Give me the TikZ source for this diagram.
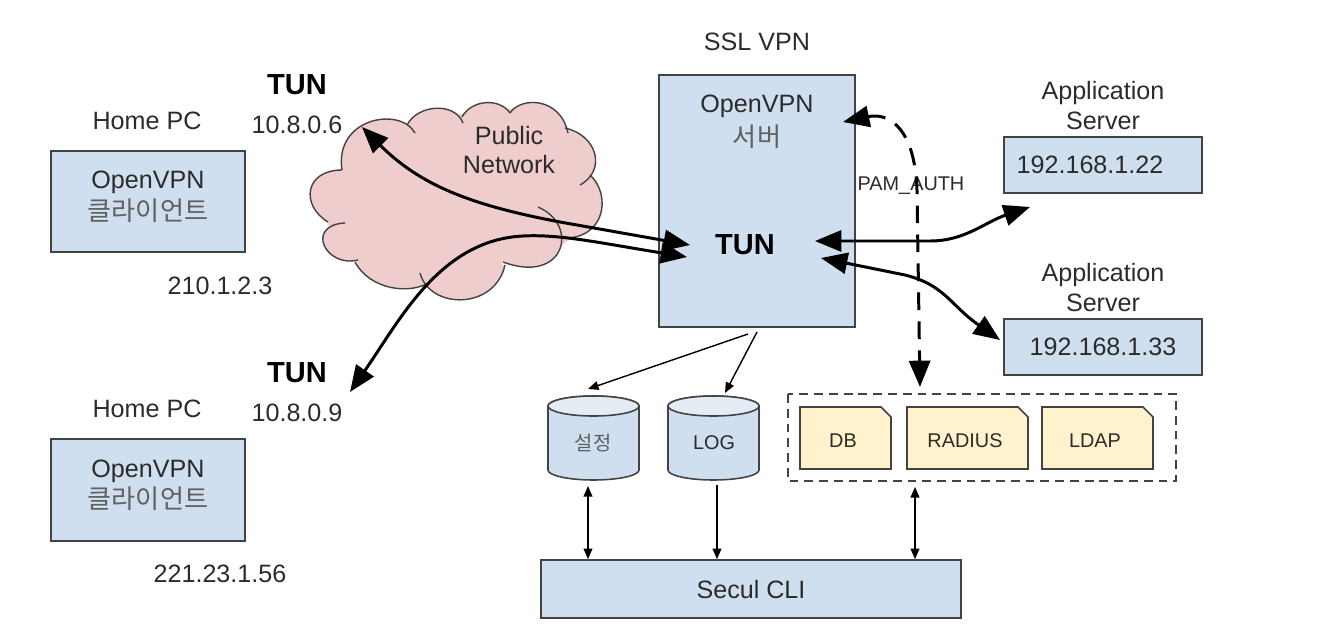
\documentclass[tikz,border=0pt]{standalone}
\usepackage{fontspec}
\setmainfont{Liberation Sans}
\newfontfamily\krfont{Noto Sans CJK KR}
\usetikzlibrary{arrows.meta}
\definecolor{boxblue}{HTML}{D0DFEF}
\definecolor{boxtop}{HTML}{E4ECF6}
\definecolor{boxyellow}{HTML}{FFF2CC}
\definecolor{cloudpink}{HTML}{EECDCC}
\definecolor{lineg}{HTML}{434343}
\definecolor{textg}{HTML}{2B2B2B}
\tikzset{
  txt/.style={font=\fontsize{14.3}{17}\selectfont,text=textg,align=center,inner sep=0pt},
  krtxt/.style={font=\fontsize{14.9}{17}\selectfont\krfont,text=textg!75,align=center,inner sep=0pt},
  tun/.style={font=\fontsize{16.5}{20}\selectfont\bfseries,text=black,inner sep=0pt},
  smalltxt/.style={font=\fontsize{11.3}{14}\selectfont,text=textg,inner sep=0pt},
  bluebox/.style={draw=lineg,line width=.9pt,fill=boxblue,inner sep=0pt},
  shapeline/.style={draw=lineg,line width=.9pt},
  frame/.style={inner sep=0pt,outer sep=0pt},
  fatarrow/.style={line width=1.7pt,black,{Triangle[length=15pt,width=12pt]}-{Triangle[length=15pt,width=12pt]}},
  thinarrow/.style={line width=.8pt,black,-{Triangle[length=6pt,width=5pt]}},
  thinboth/.style={line width=.8pt,black,{Triangle[length=6pt,width=5pt]}-{Triangle[length=6pt,width=5pt]}}
}
\begin{document}
\begin{tikzpicture}[x=.02cm,y=-.02cm]
\useasboundingbox (0,0) rectangle (1320,626);
% cloud
\def\cloudlobes{{342,170}/{334,118}/{400,106}/{415,133},{407,125}/{418,104}/{455,102}/{463,123},{462,117}/{472,99}/{500,98}/{510,113},{510,113}/{520,97}/{560,96}/{568,133},{565,128}/{597,135}/{607,170}/{580,185},{590,175}/{612,195}/{605,240}/{562,238},{538,207}/{580,225}/{565,285}/{503,262},{505,265}/{495,310}/{430,310}/{420,273},{430,282}/{410,295}/{370,290}/{355,262},{358,260}/{325,268}/{305,225}/{345,223},{328,222}/{300,205}/{305,170}/{342,170}}
\foreach \la/\lb/\lc/\ld in \cloudlobes {\fill[cloudpink] (\la) .. controls (\lb) and (\lc) .. (\ld);}
\fill[cloudpink] (345,165)--(385,130)--(440,118)--(490,108)--(540,110)--(575,140)--(595,190)--(590,225)--(552,252)--(520,258)--(502,262)--(502,268)--(440,290)--(395,282)--(365,268)--(335,245)--(322,205)--cycle;
\foreach \la/\lb/\lc/\ld in \cloudlobes {\draw[lineg,line width=.8pt] (\la) .. controls (\lb) and (\lc) .. (\ld);}
\node[txt] (public) at (509,150) {Public\\[-.3pt]Network};
% boxes
\node[bluebox,minimum width=3.88cm,minimum height=2.02cm] (pc1) at (148,201.5) {};
\node[bluebox,minimum width=3.88cm,minimum height=2.04cm] (pc2) at (148,490) {};
\node[bluebox,minimum width=3.92cm,minimum height=5.04cm] (ssl) at (757,201) {};
\node[bluebox,minimum width=3.96cm,minimum height=1.12cm] (app1) at (1103,165) {};
\node[bluebox,minimum width=3.96cm,minimum height=1.12cm] (app2) at (1103,347) {};
\node[bluebox,minimum width=8.4cm,minimum height=1.16cm] (cli) at (751,589) {};
% texts
\node[txt] (homeA) at (147,121) {Home PC};
\node[txt] (ovpnA) at (148,182) {OpenVPN};
\node[krtxt] (clientA) at (148,211) {클라이언트};
\node[txt] (addrA) at (220,286) {210.1.2.3};
\node[tun] (tunA) at (297,85) {TUN};
\node[txt] (tunaddrA) at (297,125) {10.8.0.6};
\node[txt] (homeB) at (147,409) {Home PC};
\node[txt] (ovpnB) at (148,471) {OpenVPN};
\node[krtxt] (clientB) at (148,499) {클라이언트};
\node[txt] (addrB) at (220,574) {221.23.1.56};
\node[tun] (tunB) at (297,373) {TUN};
\node[txt] (tunaddrB) at (297,413) {10.8.0.9};
\node[txt] (sslname) at (757,42) {SSL VPN};
\node[txt] (ovpnS) at (757,106) {OpenVPN};
\node[krtxt] (server) at (757,137) {서버};
\node[tun] (tunS) at (745,245) {TUN};
\node[txt] (appnameA) at (1103,105.5) {Application\\[-.3pt]Server};
\node[txt] (ipA) at (1090,165) {192.168.1.22};
\node[txt] (appnameB) at (1103,287.5) {Application\\[-.3pt]Server};
\node[txt] (ipB) at (1103,347) {192.168.1.33};
\node[txt] (clitxt) at (751,590) {Secul CLI};
% stores
\node[frame,minimum width=1.82cm,minimum height=1.68cm] (conf) at (593.5,438) {};
\node[frame,minimum width=1.82cm,minimum height=1.68cm] (logdb) at (713.5,438) {};
\foreach \cyl in {conf,logdb} {
  \draw[shapeline,fill=boxblue] ([yshift=-.2cm]\cyl.north west) -- ([yshift=.2cm]\cyl.south west) arc[start angle=180,end angle=360,x radius=.91cm,y radius=.2cm] -- ([yshift=-.2cm]\cyl.north east) arc[start angle=0,end angle=180,x radius=.91cm,y radius=.2cm] -- cycle;
  \draw[shapeline,fill=boxtop] ([yshift=-.2cm]\cyl.north) ellipse[x radius=.91cm,y radius=.2cm];
}
\node[font=\fontsize{11.3}{14}\selectfont\krfont,text=textg!75,inner sep=0pt] (conftxt) at (593,443) {설정};
\node[smalltxt] (logtxt) at (714,443) {LOG};
\draw[lineg,line width=.8pt,dash pattern=on 5pt off 3.4pt] (788,394) rectangle (1176,481);
\node[frame,minimum width=1.82cm,minimum height=1.24cm] (db) at (845.5,438) {};
\node[frame,minimum width=2.42cm,minimum height=1.24cm] (radius) at (967.5,438) {};
\node[frame,minimum width=2.22cm,minimum height=1.24cm] (ldap) at (1097.5,438) {};
\foreach \snip in {db,radius,ldap} {
  \draw[shapeline,fill=boxyellow] (\snip.south west) -- (\snip.north west) -- ([xshift=-.2cm]\snip.north east) -- ([yshift=-.2cm]\snip.north east) -- (\snip.south east) -- cycle;
}
\node[smalltxt] (dbtxt) at (843,441) {DB};
\node[smalltxt] (radtxt) at (965,441) {RADIUS};
\node[smalltxt] (ldaptxt) at (1095,441) {LDAP};
\node[smalltxt] (pam) at (911,186) {PAM\_AUTH};
% connectors
\coordinate (endA) at (362,127);
\coordinate (endB) at (350,392);
\coordinate (sslA) at (690,245);
\coordinate (sslB) at (687,257);
\coordinate (sslC) at (815,241);
\coordinate (sslD) at (821,258);
\coordinate (sslE) at (843,122);
\coordinate (appA) at (1030,207);
\coordinate (appB) at (1000,340);
\coordinate (storeT) at (920,387);
\draw[fatarrow] (endA) .. controls (420,185) and (470,205) .. (560,222) -- (sslA);
\draw[fatarrow] (endB) .. controls (400,320) and (440,240) .. (523,236) .. controls (560,234) and (600,243) .. (sslB);
\draw[fatarrow] (sslC) -- (930,241) .. controls (965,241) and (985,222) .. (appA);
\draw[fatarrow] (sslD) -- (905,275) .. controls (945,285) and (950,305) .. (appB);
\draw[fatarrow,dash pattern=on 10pt off 6.5pt] (sslE) .. controls (890,112) and (915,130) .. (917,190) -- (storeT);
\coordinate (sslF) at (748,334);
\coordinate (sslG) at (757,332);
\coordinate (confT) at (588,389);
\coordinate (logT) at (725,393);
\draw[thinarrow] (sslF) -- (confT);
\draw[thinarrow] (sslG) -- (logT);
\coordinate (confB) at (588,486);
\coordinate (logB) at (717,485);
\coordinate (storeB) at (915,487);
\draw[thinboth] (confB) -- (confB |- cli.north);
\draw[thinarrow] (logB) -- (logB |- cli.north);
\draw[thinboth] (storeB) -- (storeB |- cli.north);
\end{tikzpicture}
\end{document}
